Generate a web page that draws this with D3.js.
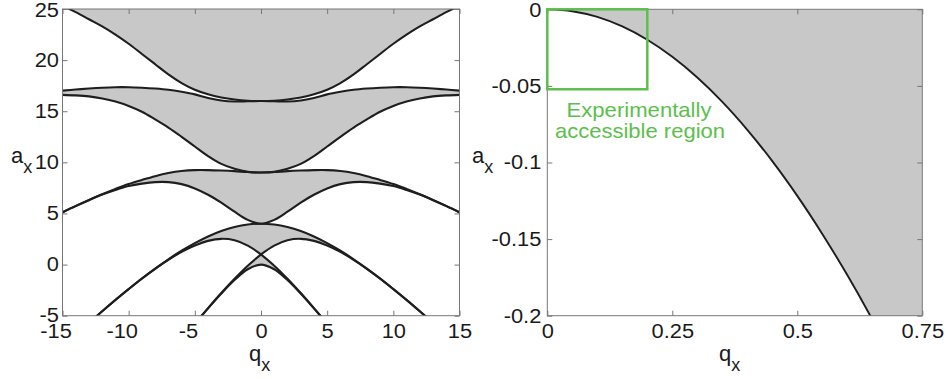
<!DOCTYPE html>
<html>
<head>
<meta charset="utf-8">
<script src="https://cdn.jsdelivr.net/npm/d3@7"></script>
<style>
  body { margin: 0; background: #fff; }
  svg { display: block; }
  text { font-family: "Liberation Sans", Arial, Helvetica, sans-serif; fill: #1a1a1a; }
</style>
</head>
<body>
<svg id="chart" width="948" height="379"></svg>
<script>
// ---- Mathieu characteristic values, sampled at |q| = 0, 1, 2, ... (chart is symmetric in q) ----
const qGrid = [0, 1, 2, 3, 4, 5, 6, 7, 8, 9, 10, 11, 12, 13, 14, 15];
const a0 = [0, -0.455, -1.514, -2.834, -4.281, -5.800, -7.37];
const b1 = [1, -0.110, -1.391, -2.785, -4.254, -5.790, -7.36];
const a1 = [1, 1.859, 2.379, 2.519, 2.318, 1.858, 1.24, 0.47, -0.41, -1.37, -2.399, -3.46, -4.57, -5.71];
const b2 = [4, 3.917, 3.672, 3.28, 2.75, 2.10, 1.36, 0.52, -0.39, -1.36, -2.385, -3.45, -4.56, -5.71];
const a2 = [4, 4.37, 5.17, 6.05, 6.83, 7.45, 7.87, 8.07, 8.07, 7.92, 7.68, 7.30, 6.85, 6.30, 5.72, 5.10];
const b3 = [9, 9.05, 9.14, 9.20, 9.24, 9.24, 9.15, 8.95, 8.65, 8.28, 7.88, 7.40, 6.88, 6.33, 5.74, 5.12];
const a3 = [9, 9.08, 9.37, 9.85, 10.62, 11.55, 12.5, 13.4, 14.2, 14.95, 15.52, 15.95, 16.25, 16.45, 16.55, 16.6];
const b4 = [16, 15.97, 15.95, 16.05, 16.30, 16.65, 16.90, 17.10, 17.22, 17.30, 17.35, 17.35, 17.30, 17.22, 17.12, 17.02];
const a4 = [16, 16.03, 16.14, 16.34, 16.65, 17.10, 17.75, 18.60, 19.60, 20.60, 21.60, 22.50, 23.30, 24.00, 24.70, 25.30];

// ---- ground-state boundary for small q (right panel) ----
const qSmall = [0, 0.05, 0.1, 0.15, 0.2, 0.25, 0.3, 0.35, 0.4, 0.45, 0.5, 0.55, 0.6, 0.65, 0.7];
const aSmall = [0, -0.00125, -0.00500, -0.01122, -0.01991, -0.03104, -0.04456, -0.06043, -0.07865,
                -0.09911, -0.12178, -0.14660, -0.17350, -0.20244, -0.23335];

// ---- axes ----
const leftXTicks = [-15, -10, -5, 0, 5, 10, 15];
const leftYTicks = [-5, 0, 5, 10, 15, 20, 25];
const rightXTicks = [0, 0.25, 0.5, 0.75];
const rightXLabels = ["0", "0.25", "0.5", "0.75"];
const rightYTicks = [0, -0.05, -0.1, -0.15, -0.2];
const rightYLabels = ["0", "-0.05", "-0.1", "-0.15", "-0.2"];
const boxQ = [0, 0.2];
const boxA = [0, -0.0522];
const boxLabel = ["Experimentally", "accessible region"];

const svg = d3.select("#chart");
const FILL = "#c8c8c8", INK = "#1e1e1e", FRAME = "#777", GREEN = "#5cbf4c";
const TICK_FONT = 19.5, TICK_STRETCH = 1.12;

// ================= left panel =================
const L = { x0: 62.5, x1: 459.5, y0: 9, y1: 315.7 };
const xL = d3.scaleLinear().domain([-15, 15]).range([L.x0, L.x1]);
const yL = d3.scaleLinear().domain([-5, 25]).range([L.y1, L.y0]);

svg.append("clipPath").attr("id", "clipL").append("rect")
  .attr("x", L.x0).attr("y", L.y0).attr("width", L.x1 - L.x0).attr("height", L.y1 - L.y0);

const lineL = d3.line().x(d => xL(d[0])).y(d => yL(d[1])).curve(d3.curveCatmullRom.alpha(0.5));

function halfPts(vals, sign) { return vals.map((v, i) => [sign * qGrid[i], v]); }
function fullPts(vals) {
  return halfPts(vals, -1).slice(1).reverse().concat(halfPts(vals, 1));
}
// kinked curves are drawn as two halves meeting at q = 0
function curvePath(vals, kinked, reverse) {
  let segs = kinked ? [halfPts(vals, -1).reverse(), halfPts(vals, 1)] : [fullPts(vals)];
  if (reverse) segs = segs.reverse().map(s => s.slice().reverse());
  return segs.map((s, i) => { const p = lineL(s); return i ? p.replace(/^M/, "L") : p; }).join("");
}

const regions = [
  { lo: a0, loK: false, hi: b1, hiK: true },
  { lo: a1, loK: true, hi: b2, hiK: false },
  { lo: a2, loK: false, hi: b3, hiK: false },
  { lo: a3, loK: false, hi: b4, hiK: false },
  { lo: a4, loK: false, hi: null, hiK: false }
];
const gL = svg.append("g").attr("clip-path", "url(#clipL)");
regions.forEach(r => {
  const top = r.hi ? curvePath(r.hi, r.hiK, false)
                   : `M${xL(-15)},${yL(27)}L${xL(15)},${yL(27)}`;
  const bottom = curvePath(r.lo, r.loK, true).replace(/^M/, "L");
  gL.append("path").attr("d", top + bottom + "Z").attr("fill", FILL).attr("stroke", "none");
});
[[a0, false], [b1, true], [a1, true], [b2, false], [a2, false], [b3, false], [a3, false], [b4, false], [a4, false]]
  .forEach(([vals, k]) => {
    gL.append("path").attr("d", curvePath(vals, k, false))
      .attr("fill", "none").attr("stroke", INK).attr("stroke-width", 2.1).attr("stroke-linejoin", "round");
  });

// ================= right panel =================
const R = { x0: 547.3, x1: 922.3, y0: 9.3, y1: 315.7 };
const xR = d3.scaleLinear().domain([0, 0.75]).range([R.x0, R.x1]);
const yR = d3.scaleLinear().domain([-0.2, 0]).range([R.y1, R.y0]);

svg.append("clipPath").attr("id", "clipR").append("rect")
  .attr("x", R.x0).attr("y", R.y0).attr("width", R.x1 - R.x0).attr("height", R.y1 - R.y0);
const gR = svg.append("g").attr("clip-path", "url(#clipR)");
const lineR = d3.line().x((d, i) => xR(qSmall[i])).y(d => yR(d)).curve(d3.curveCatmullRom.alpha(0.5));
const edge = lineR(aSmall);
gR.append("path")
  .attr("d", edge + `L${xR(0.75)},${yR(-0.25)}L${xR(0.75)},${yR(0)}Z`)
  .attr("fill", FILL);
gR.append("path").attr("d", edge).attr("fill", "none").attr("stroke", INK).attr("stroke-width", 1.9);

// ================= frames, ticks, labels =================
function widen(sel, k) {
  sel.each(function () {
    const w = this.getComputedTextLength();
    d3.select(this).attr("textLength", w * k).attr("lengthAdjust", "spacingAndGlyphs");
  });
}
function frame(P, xs, ys, xT, yT, xLab, yLab, padX, padY, negShift) {
  const g = svg.append("g");
  g.append("rect").attr("x", P.x0).attr("y", P.y0).attr("width", P.x1 - P.x0).attr("height", P.y1 - P.y0)
    .attr("fill", "none").attr("stroke", FRAME).attr("stroke-width", 1);
  const fmtX = d => xLab[xT.indexOf(d)], fmtY = d => yLab[yT.indexOf(d)];
  const bottom = g.append("g").attr("transform", `translate(0,${P.y1})`)
    .call(d3.axisBottom(xs).tickValues(xT).tickSize(-5).tickPadding(padX).tickFormat(fmtX));
  const top = g.append("g").attr("transform", `translate(0,${P.y0})`)
    .call(d3.axisTop(xs).tickValues(xT).tickSize(-5).tickFormat(""));
  const left = g.append("g").attr("transform", `translate(${P.x0},0)`)
    .call(d3.axisLeft(ys).tickValues(yT).tickSize(-5).tickPadding(padY).tickFormat(fmtY));
  const right = g.append("g").attr("transform", `translate(${P.x1},0)`)
    .call(d3.axisRight(ys).tickValues(yT).tickSize(-5).tickFormat(""));
  [bottom, top, left, right].forEach(a => {
    a.select(".domain").remove();
    a.selectAll("line").attr("stroke", FRAME);
    a.selectAll("text").attr("font-size", TICK_FONT).attr("fill", "#1a1a1a")
      .style("font-family", '"Liberation Sans", Arial, sans-serif');
  });
  widen(bottom.selectAll("text"), TICK_STRETCH);
  widen(left.selectAll("text"), TICK_STRETCH);
  if (negShift) bottom.selectAll("text").filter(d => d < 0).attr("dx", -negShift);
  // keep the topmost value label inside the canvas
  left.selectAll("text").filter(d => d === yT[yT.length - 1] || d === yT[0] && ys(d) < 20)
    .attr("dy", "0.36em");
}
frame(L, xL, yL, leftXTicks, leftYTicks, leftXTicks.map(String), leftYTicks.map(String), 8, 3.5, 7);
frame(R, xR, yR, rightXTicks, rightYTicks, rightXLabels, rightYLabels, 8, 6, 0);

// axis titles with subscripts
function subLabel(x, y, main, sub) {
  const t = svg.append("text").attr("x", x).attr("y", y).attr("font-size", 22);
  t.append("tspan").text(main);
  t.append("tspan").attr("dy", 10).attr("font-size", 18).text(sub);
}
subLabel(11, 163, "a", "x");
subLabel(472, 163, "a", "x");
subLabel(249, 361, "q", "x");
subLabel(719, 361, "q", "x");

// experimentally accessible window
svg.append("rect")
  .attr("x", xR(boxQ[0])).attr("y", yR(boxA[0]))
  .attr("width", xR(boxQ[1]) - xR(boxQ[0])).attr("height", yR(boxA[1]) - yR(boxA[0]))
  .attr("fill", "none").attr("stroke", GREEN).attr("stroke-width", 2.5);
svg.append("text").attr("x", 639).attr("y", 117).attr("text-anchor", "middle")
  .attr("font-size", 21).attr("textLength", 145).attr("lengthAdjust", "spacingAndGlyphs")
  .style("fill", GREEN).text(boxLabel[0]);
svg.append("text").attr("x", 640).attr("y", 138).attr("text-anchor", "middle")
  .attr("font-size", 21).attr("textLength", 170).attr("lengthAdjust", "spacingAndGlyphs")
  .style("fill", GREEN).text(boxLabel[1]);
</script>
</body>
</html>
